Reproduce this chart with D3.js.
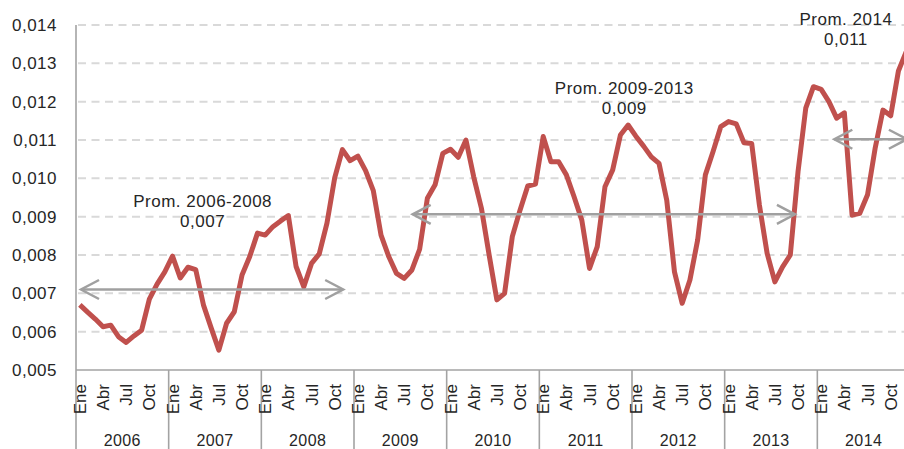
<!DOCTYPE html>
<html>
<head>
<meta charset="utf-8">
<script src="https://cdn.jsdelivr.net/npm/d3@7"></script>
<style>
  html, body { margin: 0; padding: 0; background: #fff; }
  svg { display: block; font-family: "Liberation Sans", Arial, sans-serif; }
</style>
</head>
<body>
<svg></svg>
<script>
// monthly series, Jan 2006 .. Dec 2014
const years = ["2006", "2007", "2008", "2009", "2010", "2011", "2012", "2013", "2014"];
const monthLabels = ["Ene", "", "", "Abr", "", "", "Jul", "", "", "Oct", "", ""];
const values = [
    0.0067, 0.00651, 0.00633, 0.00613, 0.00617, 0.00587, 0.00572, 0.00589, 0.00604, 0.00685, 0.00724, 0.00756,
    0.00797, 0.0074, 0.00768, 0.00762, 0.0067, 0.0061, 0.00552, 0.00622, 0.00652, 0.00748, 0.00796, 0.00857,
    0.00852, 0.00874, 0.00889, 0.00903, 0.0077, 0.00717, 0.00778, 0.00803, 0.00883, 0.01001, 0.01075, 0.01046,
    0.01058, 0.0102, 0.00968, 0.00852, 0.00796, 0.00752, 0.00739, 0.00761, 0.00815, 0.00948, 0.00983, 0.01065,
    0.01076, 0.01055, 0.011, 0.01004, 0.00922, 0.0080, 0.00683, 0.007, 0.00848, 0.00917, 0.0098, 0.00985,
    0.01109, 0.01043, 0.01043, 0.01009, 0.00952, 0.00891, 0.00765, 0.00822, 0.00978, 0.01022, 0.01113, 0.01139,
    0.0111, 0.01084, 0.01056, 0.01039, 0.00943, 0.00756, 0.00674, 0.00735, 0.00839, 0.01009, 0.0107, 0.01135,
    0.01148, 0.01142, 0.01093, 0.01091, 0.0093, 0.00804, 0.0073, 0.00769, 0.008, 0.01017, 0.01183, 0.01239,
    0.01232, 0.012, 0.01157, 0.01171, 0.00904, 0.00909, 0.00957, 0.0108, 0.01178, 0.01163, 0.0128, 0.0133
];
const yTicks = [0.005, 0.006, 0.007, 0.008, 0.009, 0.010, 0.011, 0.012, 0.013, 0.014];

// period averages (arrows): start / end month index, level, label
const avgTitles = ["Prom. 2006-2008", "Prom. 2009-2013", "Prom. 2014"];
const avgLabels = ["0,007", "0,009", "0,011"];
const avgLevels = [0.0071, 0.00906, 0.01102];
const avgStart = [0.15, 43.1, 97.7];
const avgEnd = [34.1, 92.6, 107.1];

const width = 904, height = 449;
const margin = { left: 76, top: 25, axisY: 370 };
const plotRight = 910;   // plot runs a little past the window edge
// label anchors for the annotations (month index, baseline in px)
const annX = [15.9, 70.5, 99.2];
const annY = [207, 94, 25];

const textColor = "#262626";

const svg = d3.select("svg")
    .attr("width", width)
    .attr("height", height);

svg.append("rect")
    .attr("width", width)
    .attr("height", height)
    .attr("fill", "#fff");

const months = d3.range(values.length);
const x = d3.scaleBand().domain(months).range([margin.left, plotRight]).padding(0);
const bw = x.bandwidth();
const cx = i => margin.left + (i + 0.5) * bw;   // center of month i (fractional ok)

const y = d3.scaleLinear().domain([0.005, 0.014]).range([margin.axisY, margin.top]);

const locale = d3.formatLocale({ decimal: ",", thousands: ".", grouping: [3], currency: ["", ""] });
const fmt = locale.format(".3f");

// gridlines
svg.append("g")
    .selectAll("line")
    .data(yTicks.slice(1))
    .join("line")
    .attr("x1", margin.left + 2)
    .attr("x2", width)
    .attr("y1", d => y(d))
    .attr("y2", d => y(d))
    .attr("stroke", "#d9d9d9")
    .attr("stroke-width", 2)
    .attr("stroke-dasharray", "8,5.5");

// y tick labels
svg.append("g")
    .selectAll("text")
    .data(yTicks)
    .join("text")
    .attr("x", 57)
    .attr("y", d => y(d))
    .attr("dy", "0.36em")
    .attr("text-anchor", "end")
    .attr("font-size", 17)
    .attr("letter-spacing", 0.5)
    .attr("fill", textColor)
    .text(d => fmt(d));

// axes lines
const axisColor = "#a3a3a3";
svg.append("line")
    .attr("x1", margin.left).attr("x2", margin.left)
    .attr("y1", margin.top).attr("y2", height)
    .attr("stroke", axisColor).attr("stroke-width", 1.6);
svg.append("line")
    .attr("x1", margin.left).attr("x2", width)
    .attr("y1", margin.axisY).attr("y2", margin.axisY)
    .attr("stroke", axisColor).attr("stroke-width", 1.6);

// year separators
svg.append("g")
    .selectAll("line")
    .data(years.slice(1))
    .join("line")
    .attr("x1", (d, i) => x((i + 1) * 12))
    .attr("x2", (d, i) => x((i + 1) * 12))
    .attr("y1", margin.axisY)
    .attr("y2", height)
    .attr("stroke", axisColor)
    .attr("stroke-width", 1.6);

// month labels
svg.append("g")
    .selectAll("text")
    .data(months.filter(i => monthLabels[i % 12]))
    .join("text")
    .attr("transform", i => `translate(${cx(i)},384) rotate(-90)`)
    .attr("dy", "0.36em")
    .attr("text-anchor", "end")
    .attr("font-size", 17)
    .attr("fill", textColor)
    .text(i => monthLabels[i % 12]);

// year labels
svg.append("g")
    .selectAll("text")
    .data(years)
    .join("text")
    .attr("x", (d, i) => x(i * 12) + bw * 6)
    .attr("y", 446)
    .attr("text-anchor", "middle")
    .attr("font-size", 16)
    .attr("letter-spacing", 0.4)
    .attr("fill", textColor)
    .text(d => d);

// arrow marker
const defs = svg.append("defs");
defs.append("marker")
    .attr("id", "head")
    .attr("viewBox", "-22 -12 26 24")
    .attr("refX", 0)
    .attr("refY", 0)
    .attr("markerWidth", 26)
    .attr("markerHeight", 24)
    .attr("markerUnits", "userSpaceOnUse")
    .attr("orient", "auto-start-reverse")
    .append("path")
    .attr("d", "M-18,-9.5L0,0L-18,9.5")
    .attr("fill", "none")
    .attr("stroke", "#a0a0a0")
    .attr("stroke-width", 2.5);

// the series line
const line = d3.line()
    .x((d, i) => cx(i))
    .y(d => y(d));

svg.append("path")
    .datum(values)
    .attr("d", line)
    .attr("fill", "none")
    .attr("stroke", "#C0504D")
    .attr("stroke-width", 5)
    .attr("stroke-linejoin", "round");

// average arrows
svg.append("g")
    .selectAll("line")
    .data(avgLevels)
    .join("line")
    .attr("x1", (d, i) => cx(avgStart[i]))
    .attr("x2", (d, i) => cx(avgEnd[i]))
    .attr("y1", d => y(d))
    .attr("y2", d => y(d))
    .attr("stroke", "#a0a0a0")
    .attr("stroke-width", 2.5)
    .attr("marker-start", "url(#head)")
    .attr("marker-end", "url(#head)");

// annotation text
const ann = svg.append("g")
    .selectAll("text")
    .data(avgTitles)
    .join("text")
    .attr("x", (d, i) => cx(annX[i]))
    .attr("y", (d, i) => annY[i])
    .attr("text-anchor", "middle")
    .attr("font-size", 17)
    .attr("letter-spacing", 0.5)
    .attr("fill", textColor);
ann.append("tspan").text(d => d);
ann.append("tspan")
    .attr("x", (d, i) => cx(annX[i]))
    .attr("dy", 20)
    .text((d, i) => avgLabels[i]);
</script>
</body>
</html>
